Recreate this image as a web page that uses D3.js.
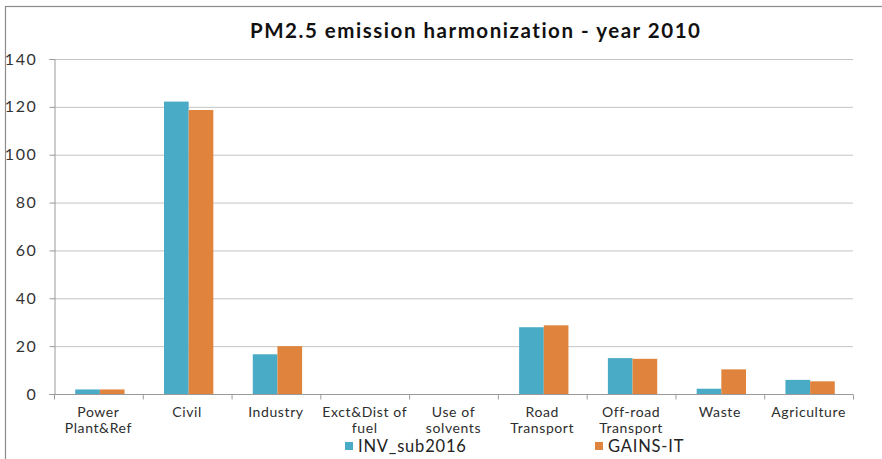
<!DOCTYPE html>
<html>
<head>
<meta charset="utf-8">
<script src="https://cdn.jsdelivr.net/npm/d3@7"></script>
<style>
  html, body { margin: 0; padding: 0; background: #fff; }
  svg { display: block; }
  text { font-family: Lato, "Open Sans", sans-serif; fill: #404040; font-variant-ligatures: none; }
</style>
</head>
<body>
<svg id="chart" width="882" height="459"></svg>
<script>
// PM2.5 emissions per sector, year 2010
const categories = [
  ["Power", "Plant&Ref"],
  ["Civil"],
  ["Industry"],
  ["Exct&Dist of", "fuel"],
  ["Use of", "solvents"],
  ["Road", "Transport"],
  ["Off-road", "Transport"],
  ["Waste"],
  ["Agriculture"]
];
const seriesNames = ["INV_sub2016", "GAINS-IT"];
const invSub2016 = [1.9, 122.2, 16.6, 0, 0, 27.9, 15.0, 2.2, 5.9];
const gainsIT    = [1.9, 118.7, 20.0, 0, 0, 28.7, 14.7, 10.3, 5.3];
const yTicks = [0, 20, 40, 60, 80, 100, 120, 140];
const colors = ["#4aabc6", "#e0843d"];

const svg = d3.select("#chart");
const margin = { left: 54, right: 29, top: 59, bottom: 65 };
const W = 882, H = 459;

// outer frame
svg.append("rect")
  .attr("x", 5.5).attr("y", 6.5)
  .attr("width", 900).attr("height", 500)
  .attr("fill", "none").attr("stroke", "#8c8c8c").attr("stroke-width", 1.2);

svg.append("text")
  .attr("x", 475).attr("y", 38)
  .attr("text-anchor", "middle")
  .attr("textLength", 450).attr("lengthAdjust", "spacing")
  .style("font-size", "20.5px").style("font-weight", "bold")
  .style("fill", "#111")
  .text("PM2.5 emission harmonization - year 2010");

const x0 = d3.scaleBand()
  .domain(d3.range(categories.length))
  .range([margin.left, W - margin.right])
  .paddingInner(0).paddingOuter(0);

const x1 = d3.scaleBand()
  .domain([0, 1])
  .range([0, x0.bandwidth()])
  .paddingInner(0).paddingOuter(0.8);

const y = d3.scaleLinear()
  .domain([0, 140])
  .range([H - margin.bottom, margin.top]);

// gridlines
svg.append("g").selectAll("line")
  .data(yTicks.filter(t => t > 0))
  .join("line")
  .attr("x1", margin.left).attr("x2", W - margin.right)
  .attr("y1", d => y(d) + 0.5).attr("y2", d => y(d) + 0.5)
  .attr("stroke", "#c4c4c4").attr("stroke-width", 1);

// y axis
const yAxis = svg.append("g")
  .attr("transform", `translate(${margin.left + 0.5},0)`)
  .call(d3.axisLeft(y).tickValues(yTicks).tickSize(5).tickPadding(12).tickFormat(d3.format("d")));
yAxis.select(".domain").attr("stroke", "#9a9a9a");
yAxis.selectAll(".tick line").attr("stroke", "#9a9a9a");
yAxis.selectAll(".tick text")
  .style("font-family", "Lato, sans-serif")
  .style("font-size", "16px").style("letter-spacing", "1.6px").style("fill", "#333");

// bars
const series = [invSub2016, gainsIT];
const groups = svg.append("g").selectAll("g")
  .data(categories.map((c, i) => i))
  .join("g")
  .attr("transform", i => `translate(${x0(i) + 1.5},0)`);

groups.selectAll("rect")
  .data(i => series.map((s, k) => ({ k, v: s[i] })))
  .join("rect")
  .attr("x", d => x1(d.k))
  .attr("width", x1.bandwidth())
  .attr("y", d => y(d.v))
  .attr("height", d => y(0) - y(d.v))
  .attr("fill", d => colors[d.k]);

// x axis with ticks at category boundaries
const xAxisG = svg.append("g")
  .attr("transform", `translate(0,${y(0) + 0.5})`);
xAxisG.append("line")
  .attr("x1", margin.left).attr("x2", W - margin.right)
  .attr("stroke", "#9a9a9a");
const edge = i => (i < categories.length ? x0(i) : x0(categories.length - 1) + x0.bandwidth()) + 0.5;
xAxisG.selectAll("line.tk")
  .data(d3.range(categories.length + 1))
  .join("line").attr("class", "tk")
  .attr("x1", edge).attr("x2", edge)
  .attr("y1", 0).attr("y2", 5)
  .attr("stroke", "#9a9a9a");

// category labels, one text per line
const labelLines = categories.flatMap((c, i) => c.map((line, j) => ({ line, i, j })));
svg.append("g").selectAll("text")
  .data(labelLines)
  .join("text")
  .attr("text-anchor", "middle")
  .attr("x", d => x0(d.i) + x0.bandwidth() / 2)
  .attr("y", d => 417 + d.j * 15.5)
  .style("font-size", "14px")
  .style("letter-spacing", "0.6px")
  .style("fill", "#2e2e2e")
  .text(d => d.line);

// legend
const legendX = [345, 595];
const legend = svg.append("g").selectAll("g")
  .data(seriesNames.map((n, k) => ({ n, k })))
  .join("g")
  .attr("transform", d => `translate(${legendX[d.k]},0)`);
legend.append("rect")
  .attr("x", 0).attr("y", 442).attr("width", 8).attr("height", 8)
  .attr("fill", d => colors[d.k]);
legend.append("text")
  .attr("x", 13).attr("y", 452)
  .style("font-size", "16.5px")
  .style("letter-spacing", "0.8px")
  .style("fill", "#222")
  .text(d => d.n);
</script>
</body>
</html>
